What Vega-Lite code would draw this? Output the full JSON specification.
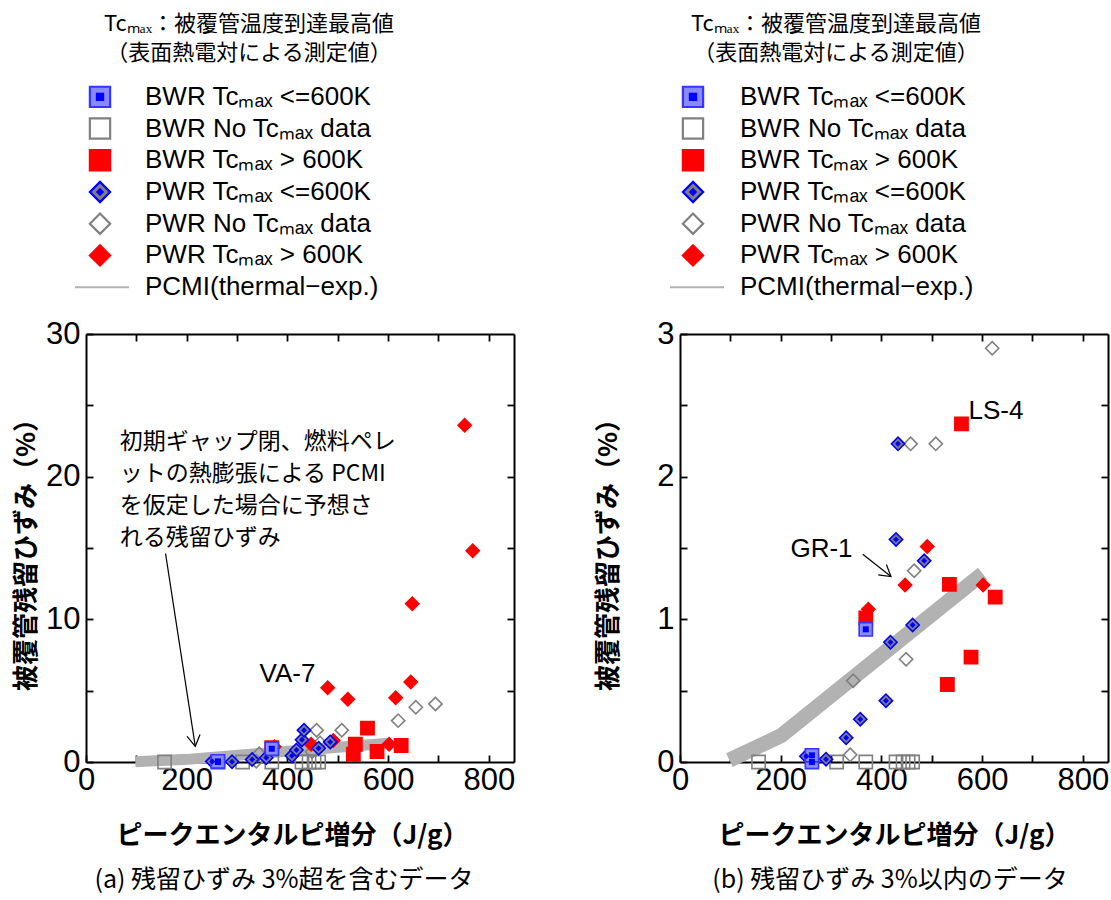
{
  "$schema": "https://vega.github.io/schema/vega-lite/v6.json",
  "background": "white",
  "padding": {"left": 13, "top": 13, "right": 2, "bottom": 9},
  "datasets": {
    "points": [
      {"enthalpy": 620, "strain": 2.90, "type": "PWR_no"},
      {"enthalpy": 458, "strain": 2.23, "type": "PWR_no"},
      {"enthalpy": 508, "strain": 2.23, "type": "PWR_no"},
      {"enthalpy": 465, "strain": 1.34, "type": "PWR_no"},
      {"enthalpy": 449, "strain": 0.72, "type": "PWR_no"},
      {"enthalpy": 344, "strain": 0.57, "type": "PWR_no"},
      {"enthalpy": 338, "strain": 0.05, "type": "PWR_no"},
      {"enthalpy": 655, "strain": 3.84, "type": "PWR_no"},
      {"enthalpy": 694, "strain": 4.07, "type": "PWR_no"},
      {"enthalpy": 156, "strain": 0, "type": "BWR_no"},
      {"enthalpy": 311, "strain": 0, "type": "BWR_no"},
      {"enthalpy": 369, "strain": 0, "type": "BWR_no"},
      {"enthalpy": 429, "strain": 0, "type": "BWR_no"},
      {"enthalpy": 443, "strain": 0, "type": "BWR_no"},
      {"enthalpy": 453, "strain": 0, "type": "BWR_no"},
      {"enthalpy": 462, "strain": 0, "type": "BWR_no"},
      {"enthalpy": 369, "strain": 1.01, "type": "BWR_hi"},
      {"enthalpy": 559, "strain": 2.37, "type": "BWR_hi"},
      {"enthalpy": 535, "strain": 1.245, "type": "BWR_hi"},
      {"enthalpy": 626, "strain": 1.156, "type": "BWR_hi"},
      {"enthalpy": 578, "strain": 0.735, "type": "BWR_hi"},
      {"enthalpy": 531, "strain": 0.543, "type": "BWR_hi"},
      {"enthalpy": 374, "strain": 1.07, "type": "PWR_hi"},
      {"enthalpy": 447, "strain": 1.24, "type": "PWR_hi"},
      {"enthalpy": 491, "strain": 1.51, "type": "PWR_hi"},
      {"enthalpy": 602, "strain": 1.24, "type": "PWR_hi"},
      {"enthalpy": 752, "strain": 23.6, "type": "PWR_hi"},
      {"enthalpy": 768, "strain": 14.8, "type": "PWR_hi"},
      {"enthalpy": 648, "strain": 11.1, "type": "PWR_hi"},
      {"enthalpy": 645, "strain": 5.6, "type": "PWR_hi"},
      {"enthalpy": 480, "strain": 5.2, "type": "PWR_hi"},
      {"enthalpy": 520, "strain": 4.4, "type": "PWR_hi"},
      {"enthalpy": 615, "strain": 4.5, "type": "PWR_hi"},
      {"enthalpy": 251, "strain": 0.04, "type": "PWR_lo"},
      {"enthalpy": 290, "strain": 0.02, "type": "PWR_lo"},
      {"enthalpy": 330, "strain": 0.17, "type": "PWR_lo"},
      {"enthalpy": 358, "strain": 0.30, "type": "PWR_lo"},
      {"enthalpy": 409, "strain": 0.43, "type": "PWR_lo"},
      {"enthalpy": 418, "strain": 0.84, "type": "PWR_lo"},
      {"enthalpy": 462, "strain": 0.96, "type": "PWR_lo"},
      {"enthalpy": 485, "strain": 1.41, "type": "PWR_lo"},
      {"enthalpy": 429, "strain": 1.56, "type": "PWR_lo"},
      {"enthalpy": 433, "strain": 2.23, "type": "PWR_lo"},
      {"enthalpy": 262, "strain": 0.0, "type": "BWR_lo"},
      {"enthalpy": 262, "strain": 0.047, "type": "BWR_lo"},
      {"enthalpy": 369, "strain": 0.93, "type": "BWR_lo"}
    ],
    "pcmi": [
      {"enthalpy": 98, "strain": 0.013},
      {"enthalpy": 201, "strain": 0.185},
      {"enthalpy": 601, "strain": 1.32}
    ],
    "legend": [
      {"i": 1, "type": "BWR_lo", "label": "BWR Tcₘₐₓ <=600K"},
      {"i": 2, "type": "BWR_no", "label": "BWR No Tcₘₐₓ data"},
      {"i": 3, "type": "BWR_hi", "label": "BWR Tcₘₐₓ > 600K"},
      {"i": 4, "type": "PWR_lo", "label": "PWR Tcₘₐₓ <=600K"},
      {"i": 5, "type": "PWR_no", "label": "PWR No Tcₘₐₓ data"},
      {"i": 6, "type": "PWR_hi", "label": "PWR Tcₘₐₓ > 600K"},
      {"i": 7, "type": "PCMI", "label": "PCMI(thermal−exp.)"}
    ]
  },
  "hconcat": [
    {
      "spacing": 15,
      "vconcat": [
        {
          "width": 428, "height": 222,
          "title": {"text": "Tcₘₐₓ：被覆管温度到達最高値", "subtitle": "（表面熱電対による測定値）", "anchor": "middle", "frame": "group", "dx": -51, "offset": 16, "font": "Noto Sans CJK JP", "fontSize": 22, "fontWeight": "normal", "color": "black", "subtitleFont": "Noto Sans CJK JP", "subtitleFontSize": 22, "subtitleColor": "black", "subtitlePadding": 7},
          "data": {"name": "legend"},
          "layer": [
            {
              "transform": [{"filter": "datum.type !== 'PCMI'"}],
              "mark": {"type": "point", "filled": true, "opacity": 1, "size": 410, "strokeWidth": 2.2},
              "encoding": {
                "x": {"datum": 14, "type": "quantitative", "scale": {"domain": [0, 428], "nice": false, "zero": false}, "axis": null},
                "y": {"field": "i", "type": "quantitative", "scale": {"domain": [0.5, 7.5], "reverse": true, "nice": false, "zero": false}, "axis": null},
                "shape": {"field": "type", "type": "nominal", "legend": null, "scale": {"domain": ["BWR_lo", "BWR_no", "BWR_hi", "PWR_lo", "PWR_no", "PWR_hi"], "range": ["square", "square", "square", "diamond", "diamond", "diamond"]}},
                "fill": {"field": "type", "type": "nominal", "legend": null, "scale": {"domain": ["BWR_lo", "BWR_no", "BWR_hi", "PWR_lo", "PWR_no", "PWR_hi"], "range": ["#8a8aff", "transparent", "#ff0000", "#7f7f7f", "transparent", "#ff0000"]}},
                "stroke": {"field": "type", "type": "nominal", "legend": null, "scale": {"domain": ["BWR_lo", "BWR_no", "BWR_hi", "PWR_lo", "PWR_no", "PWR_hi"], "range": ["#3535ff", "#808080", "#ff0000", "#0000ff", "#808080", "#ff0000"]}}
              }
            },
            {
              "transform": [{"filter": "datum.type === 'BWR_lo' || datum.type === 'PWR_lo'"}],
              "mark": {"type": "point", "filled": true, "opacity": 1, "size": 70, "color": "#0000ff", "strokeWidth": 0},
              "encoding": {
                "x": {"datum": 14, "type": "quantitative"},
                "y": {"field": "i", "type": "quantitative"},
                "shape": {"field": "type", "type": "nominal", "legend": null}
              }
            },
            {
              "transform": [{"filter": "datum.type === 'PCMI'"}],
              "mark": {"type": "rule", "color": "#b2b2b2", "strokeWidth": 2},
              "encoding": {
                "x": {"datum": -11, "type": "quantitative"},
                "x2": {"datum": 43},
                "y": {"field": "i", "type": "quantitative"}
              }
            },
            {
              "mark": {"type": "text", "align": "left", "baseline": "middle", "font": "Liberation Sans", "fontSize": 26, "color": "black"},
              "encoding": {
                "x": {"datum": 59, "type": "quantitative"},
                "y": {"field": "i", "type": "quantitative"},
                "text": {"field": "label", "type": "nominal"}
              }
            }
          ]
        },
        {
          "width": 428, "height": 428,
          "title": {"text": "(a) 残留ひずみ 3%超を含むデータ", "orient": "bottom", "anchor": "middle", "frame": "group", "dx": -16, "offset": 20, "font": "Noto Sans CJK JP", "fontSize": 25, "fontWeight": "normal", "color": "black"},
          "layer": [
            {
              "data": {"name": "pcmi"},
              "mark": {"type": "line", "color": "#b2b2b2", "strokeWidth": 11, "strokeCap": "butt", "clip": false},
              "encoding": {
                "x": {"field": "enthalpy", "type": "quantitative", "scale": {"domain": [0, 850], "nice": false, "zero": false},
                  "axis": {"orient": "bottom", "values": [0, 100, 200, 300, 400, 500, 600, 700, 800], "labelExpr": "datum.value % 200 === 0 ? '' + datum.value : ''", "tickSize": -7, "labelPadding": 10, "labelFlush": false, "labelOverlap": false, "labelFont": "Liberation Sans", "labelFontSize": 31, "title": "ピークエンタルピ増分（J/g）", "titleX": 206, "titleFont": "Noto Sans CJK JP", "titleFontSize": 26, "titleFontWeight": "bold", "titlePadding": 27}},
                "y": {"field": "strain", "type": "quantitative", "scale": {"domain": [0, 30], "nice": false, "zero": false},
                  "axis": {"orient": "left", "values": [0, 5, 10, 15, 20, 25, 30], "labelExpr": "datum.value % 10 === 0 ? '' + datum.value : ''", "tickSize": -7, "labelPadding": 13, "labelFlush": false, "labelOverlap": false, "labelFont": "Liberation Sans", "labelFontSize": 31, "title": "被覆管残留ひずみ（%）", "titleFont": "Noto Sans CJK JP", "titleFontSize": 26, "titleFontWeight": "bold", "titlePadding": 6}}
              }
            },
            {
              "data": {"name": "points"},
              "mark": {"type": "point", "filled": true, "opacity": 1, "size": 175, "strokeWidth": 1.6},
              "encoding": {
                "x": {"field": "enthalpy", "type": "quantitative", "axis": {"orient": "top", "values": [100, 200, 300, 400, 500, 600, 700, 800], "labels": false, "tickSize": -7, "title": null}},
                "y": {"field": "strain", "type": "quantitative", "axis": {"orient": "right", "values": [5, 10, 15, 20, 25], "labels": false, "tickSize": -7, "title": null}},
                "shape": {"field": "type", "type": "nominal", "legend": null},
                "fill": {"field": "type", "type": "nominal", "legend": null},
                "stroke": {"field": "type", "type": "nominal", "legend": null}
              }
            },
            {
              "data": {"name": "points"},
              "transform": [{"filter": "datum.type === 'BWR_lo' || datum.type === 'PWR_lo'"}],
              "mark": {"type": "point", "filled": true, "opacity": 1, "size": 36, "color": "#0000ff", "strokeWidth": 0},
              "encoding": {
                "x": {"field": "enthalpy", "type": "quantitative", "axis": null},
                "y": {"field": "strain", "type": "quantitative", "axis": null},
                "shape": {"field": "type", "type": "nominal", "legend": null}
              }
            },
            {
              "data": {"values": [{"enthalpy": 400, "strain": 6.2, "note": "VA-7"}]},
              "mark": {"type": "text", "font": "Liberation Sans", "fontSize": 26, "align": "center", "baseline": "middle", "color": "black"},
              "encoding": {
                "x": {"field": "enthalpy", "type": "quantitative", "axis": null},
                "y": {"field": "strain", "type": "quantitative", "axis": null},
                "text": {"field": "note", "type": "nominal"}
              }
            },
            {
              "data": {"values": [{"enthalpy": 67, "strain": 23.2, "note": "初期ギャップ閉、燃料ペレ\nットの熱膨張による PCMI\nを仮定した場合に予想さ\nれる残留ひずみ"}]},
              "mark": {"type": "text", "font": "Noto Sans CJK JP", "fontSize": 23, "align": "left", "baseline": "top", "lineBreak": "\n", "lineHeight": 32, "color": "black"},
              "encoding": {
                "x": {"field": "enthalpy", "type": "quantitative", "axis": null},
                "y": {"field": "strain", "type": "quantitative", "axis": null},
                "text": {"field": "note", "type": "nominal"}
              }
            },
            {
              "data": {"values": [{"enthalpy": 158, "strain": 14.6, "enthalpy_end": 217, "strain_end": 1.1}]},
              "mark": {"type": "rule", "color": "black", "strokeWidth": 1.2},
              "encoding": {
                "x": {"field": "enthalpy", "type": "quantitative", "axis": null},
                "y": {"field": "strain", "type": "quantitative", "axis": null},
                "x2": {"field": "enthalpy_end"},
                "y2": {"field": "strain_end"}
              }
            },
            {
              "data": {"values": [{"enthalpy": 217, "strain": 1.1}]},
              "mark": {"type": "point", "shape": "M-0.6,-1L0,0L0.6,-1", "size": 484, "filled": false, "opacity": 1, "stroke": "black", "strokeWidth": 1.2, "angle": 351},
              "encoding": {
                "x": {"field": "enthalpy", "type": "quantitative", "axis": null},
                "y": {"field": "strain", "type": "quantitative", "axis": null}
              }
            }
          ],
          "resolve": {"axis": {"x": "independent", "y": "independent"}}
        }
      ]
    },
    {
      "spacing": 15,
      "vconcat": [
        {
          "width": 428, "height": 222,
          "title": {"text": "Tcₘₐₓ：被覆管温度到達最高値", "subtitle": "（表面熱電対による測定値）", "anchor": "middle", "frame": "group", "dx": -58, "offset": 16, "font": "Noto Sans CJK JP", "fontSize": 22, "fontWeight": "normal", "color": "black", "subtitleFont": "Noto Sans CJK JP", "subtitleFontSize": 22, "subtitleColor": "black", "subtitlePadding": 7},
          "data": {"name": "legend"},
          "layer": [
            {
              "transform": [{"filter": "datum.type !== 'PCMI'"}],
              "mark": {"type": "point", "filled": true, "opacity": 1, "size": 410, "strokeWidth": 2.2},
              "encoding": {
                "x": {"datum": 13, "type": "quantitative", "scale": {"domain": [0, 428], "nice": false, "zero": false}, "axis": null},
                "y": {"field": "i", "type": "quantitative", "scale": {"domain": [0.5, 7.5], "reverse": true, "nice": false, "zero": false}, "axis": null},
                "shape": {"field": "type", "type": "nominal", "legend": null},
                "fill": {"field": "type", "type": "nominal", "legend": null},
                "stroke": {"field": "type", "type": "nominal", "legend": null}
              }
            },
            {
              "transform": [{"filter": "datum.type === 'BWR_lo' || datum.type === 'PWR_lo'"}],
              "mark": {"type": "point", "filled": true, "opacity": 1, "size": 70, "color": "#0000ff", "strokeWidth": 0},
              "encoding": {
                "x": {"datum": 13, "type": "quantitative"},
                "y": {"field": "i", "type": "quantitative"},
                "shape": {"field": "type", "type": "nominal", "legend": null}
              }
            },
            {
              "transform": [{"filter": "datum.type === 'PCMI'"}],
              "mark": {"type": "rule", "color": "#b2b2b2", "strokeWidth": 2},
              "encoding": {
                "x": {"datum": -10, "type": "quantitative"},
                "x2": {"datum": 44},
                "y": {"field": "i", "type": "quantitative"}
              }
            },
            {
              "mark": {"type": "text", "align": "left", "baseline": "middle", "font": "Liberation Sans", "fontSize": 26, "color": "black"},
              "encoding": {
                "x": {"datum": 60, "type": "quantitative"},
                "y": {"field": "i", "type": "quantitative"},
                "text": {"field": "label", "type": "nominal"}
              }
            }
          ]
        },
        {
          "width": 428, "height": 428,
          "title": {"text": "(b) 残留ひずみ 3%以内のデータ", "orient": "bottom", "anchor": "middle", "frame": "group", "dx": -4, "offset": 20, "font": "Noto Sans CJK JP", "fontSize": 25, "fontWeight": "normal", "color": "black"},
          "layer": [
            {
              "data": {"name": "pcmi"},
              "mark": {"type": "line", "color": "#b2b2b2", "strokeWidth": 15, "strokeCap": "butt", "clip": false},
              "encoding": {
                "x": {"field": "enthalpy", "type": "quantitative", "scale": {"domain": [0, 850], "nice": false, "zero": false},
                  "axis": {"orient": "bottom", "values": [0, 100, 200, 300, 400, 500, 600, 700, 800], "labelExpr": "datum.value % 200 === 0 ? '' + datum.value : ''", "tickSize": -7, "labelPadding": 10, "labelFlush": false, "labelOverlap": false, "labelFont": "Liberation Sans", "labelFontSize": 31, "title": "ピークエンタルピ増分（J/g）", "titleFont": "Noto Sans CJK JP", "titleFontSize": 26, "titleFontWeight": "bold", "titlePadding": 27}},
                "y": {"field": "strain", "type": "quantitative", "scale": {"domain": [0, 3], "nice": false, "zero": false},
                  "axis": {"orient": "left", "values": [0, 0.5, 1, 1.5, 2, 2.5, 3], "labelExpr": "datum.value % 1 === 0 ? '' + datum.value : ''", "tickSize": -7, "labelPadding": 13, "labelFlush": false, "labelOverlap": false, "labelFont": "Liberation Sans", "labelFontSize": 31, "title": "被覆管残留ひずみ（%）", "titleFont": "Noto Sans CJK JP", "titleFontSize": 26, "titleFontWeight": "bold", "titlePadding": 35}}
              }
            },
            {
              "data": {"name": "points"},
              "transform": [{"filter": "datum.strain <= 3"}],
              "mark": {"type": "point", "filled": true, "opacity": 1, "size": 175, "strokeWidth": 1.6},
              "encoding": {
                "x": {"field": "enthalpy", "type": "quantitative", "axis": {"orient": "top", "values": [100, 200, 300, 400, 500, 600, 700, 800], "labels": false, "tickSize": -7, "title": null}},
                "y": {"field": "strain", "type": "quantitative", "axis": {"orient": "right", "values": [0.5, 1, 1.5, 2, 2.5], "labels": false, "tickSize": -7, "title": null}},
                "shape": {"field": "type", "type": "nominal", "legend": null},
                "fill": {"field": "type", "type": "nominal", "legend": null},
                "stroke": {"field": "type", "type": "nominal", "legend": null}
              }
            },
            {
              "data": {"name": "points"},
              "transform": [{"filter": "datum.strain <= 3 && (datum.type === 'BWR_lo' || datum.type === 'PWR_lo')"}],
              "mark": {"type": "point", "filled": true, "opacity": 1, "size": 36, "color": "#0000ff", "strokeWidth": 0},
              "encoding": {
                "x": {"field": "enthalpy", "type": "quantitative", "axis": null},
                "y": {"field": "strain", "type": "quantitative", "axis": null},
                "shape": {"field": "type", "type": "nominal", "legend": null}
              }
            },
            {
              "data": {"values": [{"enthalpy": 281, "strain": 1.49, "note": "GR-1"}]},
              "mark": {"type": "text", "font": "Liberation Sans", "fontSize": 26, "align": "center", "baseline": "middle", "color": "black"},
              "encoding": {
                "x": {"field": "enthalpy", "type": "quantitative", "axis": null},
                "y": {"field": "strain", "type": "quantitative", "axis": null},
                "text": {"field": "note", "type": "nominal"}
              }
            },
            {
              "data": {"values": [{"enthalpy": 573, "strain": 2.46, "note": "LS-4"}]},
              "mark": {"type": "text", "font": "Liberation Sans", "fontSize": 26, "align": "left", "baseline": "middle", "color": "black"},
              "encoding": {
                "x": {"field": "enthalpy", "type": "quantitative", "axis": null},
                "y": {"field": "strain", "type": "quantitative", "axis": null},
                "text": {"field": "note", "type": "nominal"}
              }
            },
            {
              "data": {"values": [{"enthalpy": 363, "strain": 1.456, "enthalpy_end": 419, "strain_end": 1.30}]},
              "mark": {"type": "rule", "color": "black", "strokeWidth": 1.2},
              "encoding": {
                "x": {"field": "enthalpy", "type": "quantitative", "axis": null},
                "y": {"field": "strain", "type": "quantitative", "axis": null},
                "x2": {"field": "enthalpy_end"},
                "y2": {"field": "strain_end"}
              }
            },
            {
              "data": {"values": [{"enthalpy": 419, "strain": 1.30}]},
              "mark": {"type": "point", "shape": "M-0.6,-1L0,0L0.6,-1", "size": 484, "filled": false, "opacity": 1, "stroke": "black", "strokeWidth": 1.2, "angle": 308},
              "encoding": {
                "x": {"field": "enthalpy", "type": "quantitative", "axis": null},
                "y": {"field": "strain", "type": "quantitative", "axis": null}
              }
            }
          ],
          "resolve": {"axis": {"x": "independent", "y": "independent"}}
        }
      ]
    }
  ],
  "spacing": 80,
  "config": {
    "view": {"stroke": null},
    "axis": {"grid": false, "domainColor": "black", "domainWidth": 2, "tickColor": "black", "tickWidth": 1.8, "labelColor": "black", "titleColor": "black"},
    "title": {"color": "black"}
  }
}
